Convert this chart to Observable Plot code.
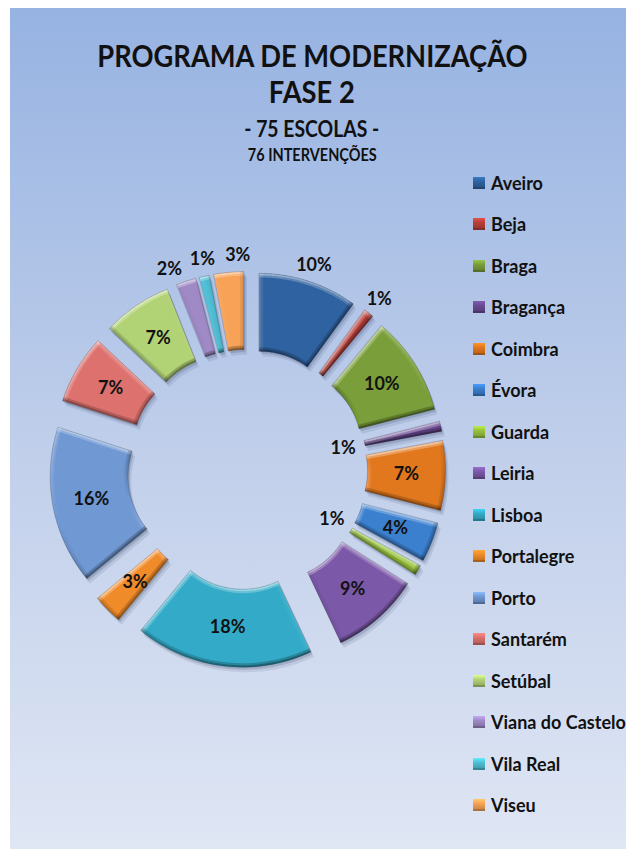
<!DOCTYPE html>
<html><head><meta charset="utf-8">
<script src="https://cdn.jsdelivr.net/npm/d3@7"></script>
<script src="https://cdn.jsdelivr.net/npm/@observablehq/plot@0.6"></script>
<style>
html,body{margin:0;padding:0;background:#fff;}
#card{position:absolute;left:10px;top:8px;width:616px;height:841px;background:linear-gradient(to bottom,#97b3e2 0%,#c2d0eb 55%,#dfe6f4 100%);overflow:hidden;font-family:Lato,"Open Sans",sans-serif;color:#111;}
.t{position:absolute;left:0;width:604px;text-align:center;font-weight:700;line-height:1.2;white-space:nowrap;}
.t span{display:inline-block;transform:scaleX(0.88);transform-origin:center;}
#chart{position:absolute;left:0;top:0;}
#legend{position:absolute;left:463px;top:154px;}
.li{height:41.53px;display:flex;align-items:center;font-weight:700;font-size:18px;white-space:nowrap;color:#111;}
.sw{width:12px;height:12px;margin-right:6px;box-sizing:border-box;}
</style></head><body>
<div id="card">
  <div id="chart"></div>
  <div class="t" style="top:29.4px;font-size:31px"><span>PROGRAMA DE MODERNIZAÇÃO</span></div>
  <div class="t" style="top:65.4px;font-size:31px"><span>FASE 2</span></div>
  <div class="t" style="top:108.3px;font-size:22px"><span>- 75 ESCOLAS -</span></div>
  <div class="t" style="top:137.7px;font-size:16.5px"><span>76 INTERVENÇÕES</span></div>
  <div id="legend"></div>
</div>
<script>
const categories = ["Aveiro","Beja","Braga","Bragança","Coimbra","Évora","Guarda","Leiria","Lisboa","Portalegre","Porto","Santarém","Setúbal","Viana do Castelo","Vila Real","Viseu"];
const percentages = [10,1,10,1,7,4,1,9,18,3,16,7,7,2,1,3];
const colors = ["#2f62a0","#b8403b","#7a9e3a","#6a4a92","#e2781e","#3b7fcf","#98c23e","#7b58a8","#33abc8","#f08b2a","#7098d3","#dc716e","#b2d276","#a08ac6","#4fbfd6","#f8a257"];
const labelPlacement = ["outside","outside","inside","hole","inside","inside","hole","inside","inside","inside","inside","inside","inside","outside","outside","outside"];

const W = 616, H = 841, CX = 237, CY = 461;
const R_OUT = 160, R_IN = 82, EXPLODE = 38;
const BAND = 2;                       // width of each bevel sub-band
const LIGHT = (() => { const v = [-0.3, 1]; const n = Math.hypot(...v); return [v[0] / n, v[1] / n]; })();

const rows = categories.map((name, i) => ({name, value: percentages[i], placement: labelPlacement[i]}));
const arcs = d3.pie().sort(null).value(d => d.value).startAngle(0).endAngle(2 * Math.PI)(rows);

const pts = [];
const labels = [];
const hi = [], lo = [];
let qid = 0;
function addQuad(corners, normal, strength) {
  const s = normal[0] * LIGHT[0] + normal[1] * LIGHT[1];
  const target = s >= 0 ? hi : lo;
  const op = Math.abs(s) * strength * (s >= 0 ? 0.55 : 0.45);
  if (op < 0.01) return;
  const id = qid++;
  for (const [x, y] of corners) target.push({id, x, y, op});
}

for (const a of arcs) {
  const a0 = a.startAngle, a1 = a.endAngle;
  const mid = (a0 + a1) / 2;
  const ox = EXPLODE * Math.sin(mid), oy = EXPLODE * Math.cos(mid);
  const P = (rho, t) => [ox + rho * Math.sin(t), oy + rho * Math.cos(t)];
  const n = Math.max(4, Math.ceil((a1 - a0) / (Math.PI / 360)));
  for (let k = 0; k <= n; k++) {
    const [x, y] = P(R_OUT, a0 + (a1 - a0) * k / n);
    pts.push({name: a.data.name, x, y});
  }
  for (let k = n; k >= 0; k--) {
    const [x, y] = P(R_IN, a0 + (a1 - a0) * k / n);
    pts.push({name: a.data.name, x, y});
  }
  // bevel bands along the arcs
  const m = Math.max(1, Math.ceil((a1 - a0) / (Math.PI / 90)));
  for (let k = 0; k < m; k++) {
    const t0 = a0 + (a1 - a0) * k / m, t1 = a0 + (a1 - a0) * (k + 1) / m, tm = (t0 + t1) / 2;
    for (let b = 0; b < 2; b++) {
      const str = b === 0 ? 1 : 0.5;
      addQuad([P(R_OUT - b * BAND, t0), P(R_OUT - b * BAND, t1), P(R_OUT - (b + 1) * BAND, t1), P(R_OUT - (b + 1) * BAND, t0)], [Math.sin(tm), Math.cos(tm)], str);
      addQuad([P(R_IN + b * BAND, t0), P(R_IN + b * BAND, t1), P(R_IN + (b + 1) * BAND, t1), P(R_IN + (b + 1) * BAND, t0)], [-Math.sin(tm), -Math.cos(tm)], str);
    }
  }
  // bevel bands along the straight edges
  const T0 = [Math.cos(a0), -Math.sin(a0)], T1 = [-Math.cos(a1), Math.sin(a1)];
  for (const [t, T] of [[a0, T0], [a1, T1]]) {
    const A = P(R_IN, t), B = P(R_OUT, t);
    for (let b = 0; b < 2; b++) {
      const s0 = b * BAND, s1 = (b + 1) * BAND;
      addQuad([[A[0] + T[0] * s0, A[1] + T[1] * s0], [B[0] + T[0] * s0, B[1] + T[1] * s0], [B[0] + T[0] * s1, B[1] + T[1] * s1], [A[0] + T[0] * s1, A[1] + T[1] * s1]], [-T[0], -T[1]], b === 0 ? 1 : 0.5);
    }
  }
  labels.push({mid, ox, oy, placement: a.data.placement, angle: mid, text: a.data.value + "%"});
}
// spread clustered outside labels (best-fit style) so they do not collide
const MIN_SEP = 10 * Math.PI / 180;
const outs = labels.filter(l => l.placement === "outside").map(l => ({l, a: l.mid > Math.PI * 1.5 ? l.mid - 2 * Math.PI : l.mid})).sort((p, q) => p.a - q.a);
for (let iter = 0; iter < 50; iter++) {
  for (let i = 1; i < outs.length; i++) {
    const gap = outs[i].a - outs[i - 1].a;
    if (gap < MIN_SEP) { const push = (MIN_SEP - gap) / 2; outs[i].a += push; outs[i - 1].a -= push; }
  }
}
outs.forEach(o => o.l.angle = o.a);
for (const l of labels) {
  const rho = l.placement === "inside" ? (R_OUT + R_IN) / 2 : l.placement === "outside" ? R_OUT + 17 : R_IN - 22;
  l.x = l.ox + rho * Math.sin(l.angle);
  l.y = l.oy + rho * Math.cos(l.angle);
}

const chart = Plot.plot({
  width: W, height: H, margin: 0,
  x: {domain: [-CX, W - CX], range: [0, W], axis: null},
  y: {domain: [-(H - CY), CY], range: [H, 0], axis: null},
  color: {domain: categories, range: colors},
  opacity: {domain: [0, 1], range: [0, 1]},
  style: {background: "transparent", overflow: "visible"},
  marks: [
    // drop shadow
    Plot.line(pts, {x: "x", y: "y", z: "name", fill: "#1b2a4a", fillOpacity: 0.10, stroke: "none", dx: 3, dy: 5, curve: "linear-closed"}),
    Plot.line(pts, {x: "x", y: "y", z: "name", fill: "#1b2a4a", fillOpacity: 0.16, stroke: "none", dx: 1.5, dy: 2.5, curve: "linear-closed"}),
    // slice faces
    Plot.line(pts, {x: "x", y: "y", z: "name", fill: "name", stroke: "none", curve: "linear-closed"}),
    // bevel light and shade
    Plot.line(hi, {x: "x", y: "y", z: "id", fill: "white", fillOpacity: "op", stroke: "none", curve: "linear-closed"}),
    Plot.line(lo, {x: "x", y: "y", z: "id", fill: "black", fillOpacity: "op", stroke: "none", curve: "linear-closed"}),
    // thin outline
    Plot.line(pts, {x: "x", y: "y", z: "name", fill: "none", stroke: "#000", strokeOpacity: 0.22, strokeWidth: 0.8, curve: "linear-closed"}),
    Plot.text(labels, {x: "x", y: "y", text: "text", fontSize: 18, fontWeight: "bold", fontFamily: "Lato", fill: "#111"})
  ]
});

document.getElementById("chart").appendChild(chart);

const legend = d3.select("#legend");
categories.forEach((c, i) => {
  const col = d3.color(colors[i]);
  const row = legend.append("div").attr("class", "li");
  row.append("div").attr("class", "sw")
    .style("background", `linear-gradient(to bottom, ${col.brighter(0.6)} 0%, ${col} 45%, ${col.darker(0.5)} 100%)`)
    .style("border-bottom", `2px solid ${col.darker(1)}`);
  row.append("span").text(c);
});
</script>
</body></html>
